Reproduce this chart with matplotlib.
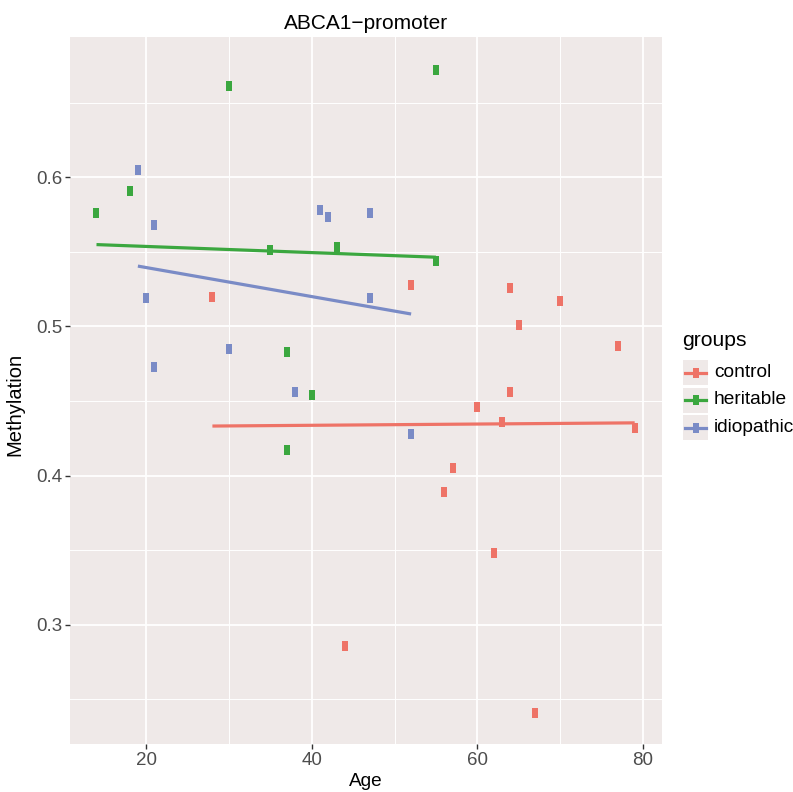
import numpy as np
import matplotlib
matplotlib.use("Agg")
import matplotlib.pyplot as plt
from matplotlib.lines import Line2D
from matplotlib.patches import Rectangle

plt.rcParams['font.family'] = ['Liberation Sans', 'DejaVu Sans']

### data
groups = ['control', 'heritable', 'idiopathic']
colors = ['#EE7367', '#3BA73F', '#7A8BC6']

age_control = [28, 52, 64, 65, 70, 77, 60, 63, 64, 79, 57, 56, 62, 44, 67]
meth_control = [0.520, 0.528, 0.526, 0.501, 0.517, 0.487, 0.446, 0.436, 0.456,
                0.432, 0.405, 0.389, 0.348, 0.286, 0.241]

age_heritable = [14, 18, 30, 35, 43, 55, 55, 37, 40, 37]
meth_heritable = [0.576, 0.591, 0.661, 0.551, 0.553, 0.672, 0.544, 0.483, 0.454, 0.417]

age_idiopathic = [19, 21, 20, 21, 30, 38, 41, 42, 47, 47, 52]
meth_idiopathic = [0.605, 0.568, 0.519, 0.473, 0.485, 0.456, 0.578, 0.573,
                   0.576, 0.519, 0.428]

ages = [age_control, age_heritable, age_idiopathic]
meths = [meth_control, meth_heritable, meth_idiopathic]

W, H = 793, 792
fig = plt.figure(figsize=(W / 100, H / 100), dpi=100)
ax = fig.add_axes([70 / W, 1 - 744 / H, (662 - 70) / W, (744 - 37) / H])
ax.set_facecolor('#EFE9E8')

# tall narrow square marker like the ggplot output
rect_marker = [(-0.36, -0.5), (0.36, -0.5), (0.36, 0.5), (-0.36, 0.5), (-0.36, -0.5)]

for x, y, c in zip(ages, meths, colors):
    x = np.array(x, float)
    y = np.array(y, float)
    ax.plot(x, y, linestyle='none', marker=rect_marker, markersize=7,
            color=c, markeredgewidth=0, zorder=3)
    k, b = np.polyfit(x, y, 1)
    xs = np.array([x.min(), x.max()])
    ax.plot(xs, k * xs + b, color=c, lw=2.3, zorder=4, solid_capstyle='butt')

ax.set_xlim(10.8, 82.3)
ax.set_ylim(0.220, 0.694)
ax.set_xticks([20, 40, 60, 80])
ax.set_yticks([0.3, 0.4, 0.5, 0.6])
ax.set_xticks([30, 50, 70], minor=True)
ax.set_yticks([0.25, 0.35, 0.45, 0.55, 0.65], minor=True)
ax.grid(which='major', color='white', lw=1.3)
ax.grid(which='minor', color='white', lw=0.7)
ax.set_axisbelow(True)
for s in ax.spines.values():
    s.set_visible(False)
ax.tick_params(which='major', length=3.5, width=1, color='#333333',
               labelsize=13.5, labelcolor='#4D4D4D', pad=2)
ax.tick_params(which='minor', length=0)

ax.set_xlabel('Age', fontsize=13.7, labelpad=3)
ax.set_ylabel('Methylation', fontsize=14.5)
ax.yaxis.set_label_coords(-0.077, 0.48)
ax.set_title('ABCA1\u2212promoter', fontsize=15, pad=6)

### legend drawn by hand
def fx(px):
    return px / W

def fy(py):
    return 1 - py / H

fig.text(fx(682), fy(341), 'groups', fontsize=15.2, va='center', ha='left')
key_tops = [360, 387.5, 415]
for top, g, c in zip(key_tops, groups, colors):
    fig.add_artist(Rectangle((fx(683), fy(top + 25)), fx(25), 25 / H,
                             facecolor='#EFE9E8', edgecolor='none'))
    cy = top + 12.5
    fig.add_artist(Line2D([fx(685), fx(706)], [fy(cy), fy(cy)], color=c, lw=2.3))
    fig.add_artist(Line2D([fx(695.5)], [fy(cy)], marker=rect_marker, markersize=7,
                          color=c, markeredgewidth=0, linestyle='none'))
    fig.text(fx(714), fy(cy), g, fontsize=13.8, va='center', ha='left')

fig.savefig('out.png', dpi=100)
